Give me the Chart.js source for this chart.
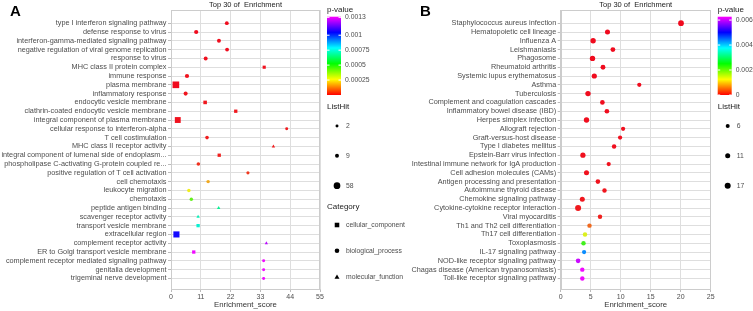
<!DOCTYPE html>
<html>
<head>
<meta charset="utf-8">
<script src="https://cdn.jsdelivr.net/npm/chart.js@4.4.1/dist/chart.umd.min.js"></script>
<style>
  html, body { margin: 0; padding: 0; background: #fff; }
  #wrap { position: relative; width: 753px; height: 311px; overflow: hidden; }
  canvas { position: absolute; top: 0; }
  #chartA { left: 0; }
  #chartB { left: 375px; }
</style>
</head>
<body>
<div id="wrap">
  <canvas id="chartA" width="420" height="311"></canvas>
  <canvas id="chartB" width="378" height="311"></canvas>
</div>
<script>
// ---- panel A: GO terms ----
const termsA = [
  'type I interferon signaling pathway', 'defense response to virus',
  'interferon-gamma-mediated signaling pathway', 'negative regulation of viral genome replication',
  'response to virus', 'MHC class II protein complex', 'immune response', 'plasma membrane',
  'inflammatory response', 'endocytic vesicle membrane', 'clathrin-coated endocytic vesicle membrane',
  'integral component of plasma membrane', 'cellular response to interferon-alpha',
  'T cell costimulation', 'MHC class II receptor activity',
  'integral component of lumenal side of endoplasm...',
  'phospholipase C-activating G-protein coupled re...', 'positive regulation of T cell activation',
  'cell chemotaxis', 'leukocyte migration', 'chemotaxis', 'peptide antigen binding',
  'scavenger receptor activity', 'transport vesicle membrane', 'extracellular region',
  'complement receptor activity', 'ER to Golgi transport vesicle membrane',
  'complement receptor mediated signaling pathway', 'genitalia development',
  'trigeminal nerve development'
];
const scoreA = [20.6, 9.3, 17.7, 20.7, 12.8, 34.4, 5.9, 1.8, 5.4, 12.6, 23.9, 2.5, 42.7, 13.3, 37.8,
  17.8, 10.1, 28.4, 13.7, 6.6, 7.5, 17.6, 10.0, 10.0, 2.0, 35.2, 8.4, 34.2, 34.2, 34.2];
const hitsA = [8, 12, 9, 8, 9, 3, 12, 58, 10, 6, 4, 40, 2, 6, 3, 4, 6, 3, 5, 5, 5, 3, 3, 4, 45, 2, 4, 2, 2, 2];
const pvalA = [0.000002, 0.000001, 0.000004, 0.000003, 0.000006, 0.000008, 0.000010, 0.000001,
  0.000012, 0.000015, 0.000016, 0.000009, 0.000018, 0.000020, 0.000022, 0.000025, 0.000045,
  0.000052, 0.00018, 0.00026, 0.00042, 0.00066, 0.00070, 0.00073, 0.00106, 0.00125, 0.00131,
  0.00131, 0.00131, 0.00131];
const catA = ['BP', 'BP', 'BP', 'BP', 'BP', 'CC', 'BP', 'CC', 'BP', 'CC', 'CC', 'CC', 'BP', 'BP', 'MF',
  'CC', 'BP', 'BP', 'BP', 'BP', 'BP', 'MF', 'MF', 'CC', 'CC', 'MF', 'CC', 'BP', 'BP', 'BP'];
const xTicksA = [0, 11, 22, 33, 44, 55];
const pTicksA = [0.00025, 0.0005, 0.00075, 0.001, 0.0013];
const pRangeA = [0, 0.00131];
const hitLegendA = [2, 9, 58];
const catNames = ['cellular_component', 'biological_process', 'molecular_function'];
const catKeys = ['CC', 'BP', 'MF'];

// ---- panel B: KEGG pathways ----
const termsB = [
  'Staphylococcus aureus infection', 'Hematopoietic cell lineage', 'Influenza A', 'Leishmaniasis',
  'Phagosome', 'Rheumatoid arthritis', 'Systemic lupus erythematosus', 'Asthma', 'Tuberculosis',
  'Complement and coagulation cascades', 'Inflammatory bowel disease (IBD)', 'Herpes simplex infection',
  'Allograft rejection', 'Graft-versus-host disease', 'Type I diabetes mellitus',
  'Epstein-Barr virus infection', 'Intestinal immune network for IgA production',
  'Cell adhesion molecules (CAMs)', 'Antigen processing and presentation', 'Autoimmune thyroid disease',
  'Chemokine signaling pathway', 'Cytokine-cytokine receptor interaction', 'Viral myocarditis',
  'Th1 and Th2 cell differentiation', 'Th17 cell differentiation', 'Toxoplasmosis',
  'IL-17 signaling pathway', 'NOD-like receptor signaling pathway',
  'Chagas disease (American trypanosomiasis)', 'Toll-like receptor signaling pathway'
];
const scoreB = [20.05, 7.8, 5.4, 8.7, 5.3, 7.05, 5.6, 13.1, 4.55, 6.95, 7.7, 4.3, 10.4, 9.9, 8.9, 3.7,
  8.0, 4.3, 6.2, 7.3, 3.6, 2.9, 6.55, 4.8, 4.05, 3.8, 3.9, 2.9, 3.6, 3.6];
const hitsB = [15, 11, 13, 10, 13, 10, 12, 7, 13, 9, 9, 13, 7, 7, 8, 12, 7, 11, 9, 8, 11, 17, 8, 8, 8,
  8, 7, 9, 8, 8];
const pvalB = [0.000001, 0.000002, 0.000003, 0.000004, 0.000005, 0.000006, 0.000008, 0.00001,
  0.000012, 0.000015, 0.000018, 0.00002, 0.000022, 0.000025, 0.00003, 0.000035, 0.00004, 0.000045,
  0.00005, 0.00006, 0.00007, 0.00008, 0.00012, 0.00052, 0.00136, 0.0022, 0.0043, 0.00606, 0.00627,
  0.00627];
const xTicksB = [0, 5, 10, 15, 20, 25];
const pTicksB = [0, 0.002, 0.004, 0.006];
const pRangeB = [0, 0.00627];
const hitLegendB = [6, 11, 17];

const rainbow = ['#ff0000', '#ffff00', '#00ff00', '#00ffff', '#0000ff', '#ff00ff'];
const FONT = 'Liberation Sans, Arial, sans-serif';
const TXT = '#4d4d4d';
const GRID = '#dedede';

function hex2rgb(h) {
  return [1, 3, 5].map(i => parseInt(h.substr(i, 2), 16));
}

function pColor(p, range) {
  let t = (p - range[0]) / (range[1] - range[0]);
  t = Math.max(0, Math.min(1, t)) * (rainbow.length - 1);
  const i = Math.min(Math.floor(t), rainbow.length - 2);
  const f = t - i;
  const a = hex2rgb(rainbow[i]), b = hex2rgb(rainbow[i + 1]);
  const c = a.map((v, k) => Math.round((v + (b[k] - v) * f) * 0.9 + (k === 2 ? 30 : 10)));
  return 'rgb(' + c.join(',') + ')';
}

const shapeOf = { CC: 'rect', BP: 'circle', MF: 'triangle' };
const shapeScale = { rect: 1.4, circle: 1, triangle: 1.25 };

function panelPlugin(cfg) {
  return {
    id: 'panel' + cfg.letter,
    afterDraw(chart) {
      const ctx = chart.ctx;
      const a = chart.chartArea;
      ctx.save();
      // panel border
      ctx.strokeStyle = '#cccccc';
      ctx.lineWidth = 1;
      ctx.strokeRect(Math.round(a.left) + 0.5, Math.round(a.top) + 0.5,
        Math.round(a.right - a.left) - 1, Math.round(a.bottom - a.top));
      // panel letter and title
      ctx.fillStyle = '#000';
      ctx.font = 'bold 15px ' + FONT;
      ctx.textBaseline = 'alphabetic';
      ctx.textAlign = 'left';
      ctx.fillText(cfg.letter, cfg.letterX, 16);
      ctx.fillStyle = '#222';
      ctx.font = '7.5px ' + FONT;
      ctx.textAlign = 'center';
      ctx.textBaseline = 'middle';
      ctx.fillText('Top 30 of  Enrichment', (a.left + a.right) / 2, 5);

      // colour bar
      const lx = a.right + 7;
      const barTop = 16.7, barBot = 95, barW = 14;
      ctx.textAlign = 'left';
      ctx.fillStyle = '#222';
      ctx.font = '8px ' + FONT;
      ctx.fillText('p-value', lx, 10);
      const g = ctx.createLinearGradient(0, barBot, 0, barTop);
      rainbow.forEach((c, i) => g.addColorStop(i / (rainbow.length - 1), c));
      ctx.fillStyle = g;
      ctx.fillRect(lx, barTop, barW, barBot - barTop);
      ctx.font = '6.8px ' + FONT;
      ctx.fillStyle = TXT;
      ctx.strokeStyle = '#fff';
      cfg.pTicks.forEach(p => {
        const y = barBot - (p - cfg.pRange[0]) / (cfg.pRange[1] - cfg.pRange[0]) * (barBot - barTop);
        ctx.beginPath();
        ctx.moveTo(lx, y); ctx.lineTo(lx + 2.5, y);
        ctx.moveTo(lx + barW - 2.5, y); ctx.lineTo(lx + barW, y);
        ctx.stroke();
        ctx.fillText(String(p), lx + barW + 4, y);
      });

      // ListHit legend
      ctx.fillStyle = '#222';
      ctx.font = '8px ' + FONT;
      ctx.fillText('ListHit', lx, 107);
      const hitY = [126, 155.7, 185.7];
      cfg.hitLegend.forEach((n, i) => {
        ctx.fillStyle = '#000';
        Chart.helpers.drawPoint(ctx, { pointStyle: 'circle', radius: cfg.size(n), borderWidth: 0 },
          lx + 10, hitY[i]);
        ctx.fillStyle = TXT;
        ctx.font = '6.8px ' + FONT;
        ctx.fillText(String(n), lx + 19, hitY[i]);
      });

      // Category legend
      if (cfg.categories) {
        ctx.fillStyle = '#222';
        ctx.font = '8px ' + FONT;
        ctx.fillText('Category', lx, 206.7);
        const catY = [225, 250.7, 277.3];
        catKeys.forEach((k, i) => {
          const st = shapeOf[k];
          ctx.fillStyle = '#000';
          Chart.helpers.drawPoint(ctx, { pointStyle: st, radius: 2.3 * shapeScale[st], borderWidth: 0 },
            lx + 10, catY[i]);
          ctx.fillStyle = TXT;
          ctx.font = '6.8px ' + FONT;
          ctx.fillText(catNames[i], lx + 19, catY[i]);
        });
      }
      ctx.restore();
    }
  };
}

function makeChart(id, cfg) {
  const data = cfg.scores.map((v, i) => ({ x: v, y: i }));
  return new Chart(document.getElementById(id), {
    type: 'scatter',
    data: {
      datasets: [{
        data: data,
        pointStyle: c => shapeOf[cfg.cats ? cfg.cats[c.dataIndex] : 'BP'],
        pointRadius: c => {
          const st = shapeOf[cfg.cats ? cfg.cats[c.dataIndex] : 'BP'];
          return cfg.size(cfg.hits[c.dataIndex]) * shapeScale[st];
        },
        pointBackgroundColor: c => pColor(cfg.pvals[c.dataIndex], cfg.pRange),
        pointBorderWidth: 0
      }]
    },
    options: {
      responsive: false,
      animation: false,
      devicePixelRatio: 1,
      events: [],
      layout: { padding: { top: 10, right: cfg.padRight, bottom: 0, left: 0 } },
      plugins: { legend: { display: false }, tooltip: { enabled: false }, title: { display: false } },
      scales: {
        x: {
          type: 'linear', min: cfg.xTicks[0], max: cfg.xTicks[cfg.xTicks.length - 1],
          afterBuildTicks: s => { s.ticks = cfg.xTicks.map(v => ({ value: v })); },
          ticks: { font: { family: FONT, size: 7 }, color: TXT, padding: 1 },
          grid: { color: GRID, tickLength: 3, tickColor: '#bbbbbb' },
          border: { color: '#cccccc' },
          title: { display: true, text: 'Enrichment_score', font: { family: FONT, size: 7.8 },
            color: '#333', padding: { top: 0, bottom: 1 } },
          afterFit: s => { s.height = 22; }
        },
        y: {
          type: 'linear', reverse: true, min: -1.5, max: 30.2,
          afterBuildTicks: s => { s.ticks = cfg.terms.map((_, i) => ({ value: i })); },
          ticks: { autoSkip: false, callback: v => cfg.terms[v], font: { family: FONT, size: 7.3 },
            color: TXT, padding: 1.5 },
          grid: { color: GRID, tickLength: 3, tickColor: '#bbbbbb' },
          border: { color: '#cccccc' },
          afterFit: s => { s.width = cfg.left; }
        }
      }
    },
    plugins: [panelPlugin(cfg)]
  });
}

makeChart('chartA', {
  letter: 'A', letterX: 10, terms: termsA, scores: scoreA, hits: hitsA, pvals: pvalA, cats: catA,
  xTicks: xTicksA, pTicks: pTicksA, pRange: pRangeA, hitLegend: hitLegendA, categories: true,
  size: n => 1.07 + 0.3 * Math.sqrt(n), left: 171, padRight: 100
});

makeChart('chartB', {
  letter: 'B', letterX: 45, terms: termsB, scores: scoreB, hits: hitsB, pvals: pvalB, cats: null,
  xTicks: xTicksB, pTicks: pTicksB, pRange: pRangeB, hitLegend: hitLegendB, categories: false,
  size: n => 0.53 + 0.6 * Math.sqrt(n), left: 185.7, padRight: 42.3
});
</script>
</body>
</html>
